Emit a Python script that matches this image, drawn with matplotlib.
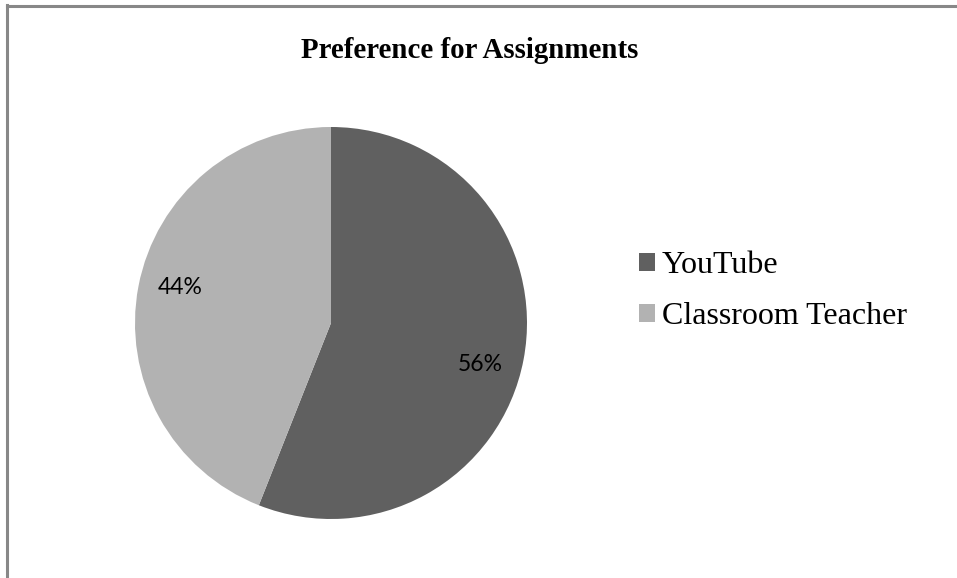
import numpy as np
import matplotlib.pyplot as plt

labels = ['YouTube', 'Classroom Teacher']
shares = [56, 44]
colors = ['#606060', '#b2b2b2']

W, H = 957, 578
fig = plt.figure(figsize=(W / 100, H / 100), dpi=100)

# chart frame (only left and top edges visible in the crop)
fig.add_artist(plt.Line2D([6.5 / W, 6.5 / W], [0, 1 - 5 / H], color='#888888', lw=2.2))
fig.add_artist(plt.Line2D([6.5 / W, 1], [1 - 5.5 / H, 1 - 5.5 / H], color='#888888', lw=2.2))

# pie axes: centre (331, 323), radius 196 px
cx, cy, r = 331, 323, 196
ax = fig.add_axes([(cx - r) / W, 1 - (cy + r) / H, 2 * r / W, 2 * r / H])
wedges, texts, autotexts = ax.pie(shares, colors=colors, startangle=90, counterclock=False,
                                  autopct='%1.0f%%', pctdistance=0.79,
                                  textprops=dict(fontsize=16.5, family='Lato', color='black'))
ax.set_aspect('equal')
ax.set_xlim(-1, 1)
ax.set_ylim(-1, 1)

# excel "best fit" puts labels slightly off the wedge middle
for w, t, off in zip(wedges, autotexts, [-4.6, -2.5]):
    mid = np.deg2rad((w.theta1 + w.theta2) / 2 + off)
    t.set_position((0.79 * np.cos(mid), 0.79 * np.sin(mid)))

fig.text(470 / W, 1 - 50 / H, 'Preference for Assignments', ha='center', va='center',
         fontsize=20.8, fontweight='bold', family='Liberation Serif')

leg = fig.legend(wedges, labels, loc='center left', bbox_to_anchor=(639 / W, 1 - 291 / H),
                 frameon=False, prop=dict(family='Liberation Serif', size=23),
                 handlelength=0.5, handleheight=0.5, handletextpad=0.22, labelspacing=0.69,
                 borderpad=0, borderaxespad=0)

fig.savefig('out.png', dpi=100)
